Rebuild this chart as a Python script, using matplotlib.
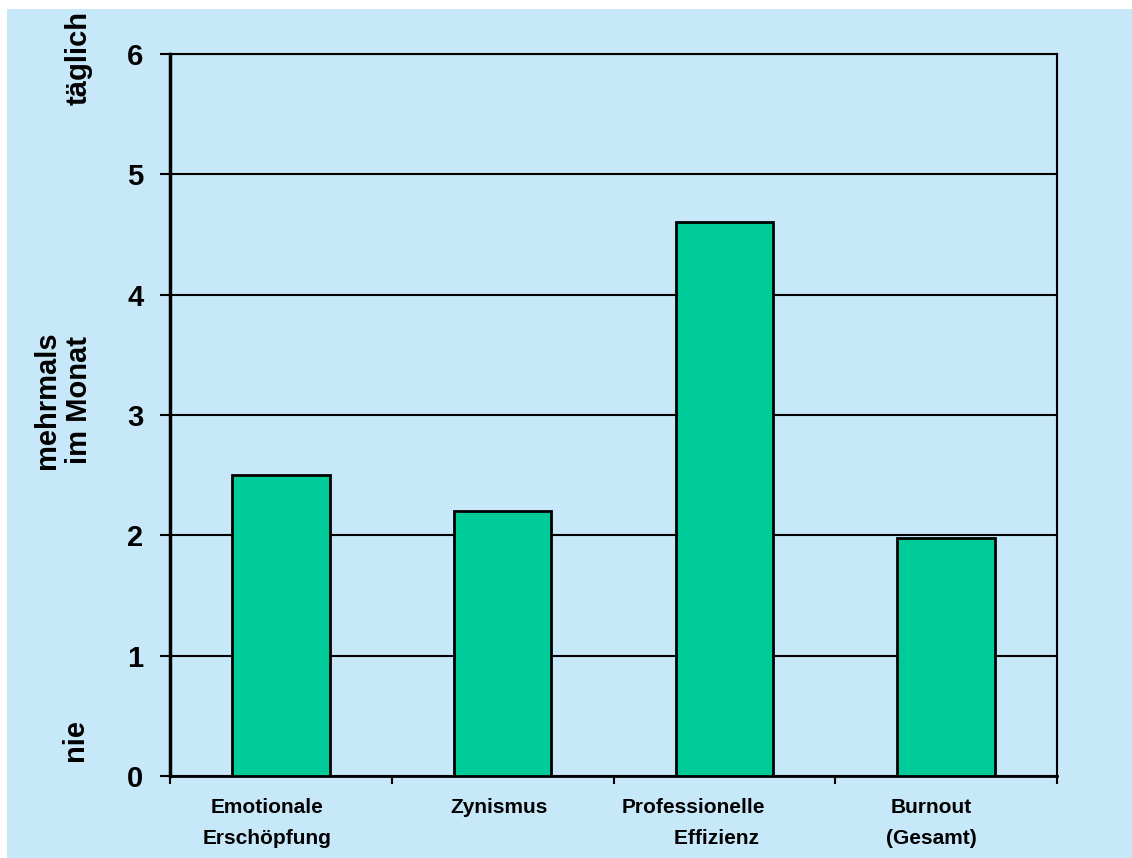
import matplotlib.pyplot as plt
from matplotlib.patches import Rectangle
from matplotlib.transforms import blended_transform_factory

# Daten
kategorien = ["Emotionale\nErschöpfung", "Zynismus", "Professionelle\nEffizienz ", "Burnout\n(Gesamt)"]
ausrichtung = ["center", "center", "right", "center"]
werte = [2.5, 2.2, 4.6, 1.98]
label_versatz = [-0.063, -0.018, -0.142, -0.068]
y_ticks = [0, 1, 2, 3, 4, 5, 6]

hintergrund = "#C6E8F8"
balken_farbe = "#00CC99"

plt.rcParams['font.family'] = ['Liberation Sans', 'DejaVu Sans']
plt.rcParams['font.weight'] = 'bold'

fig = plt.figure(figsize=(11.32, 8.58), dpi=100, facecolor="white")
# hellblauer Hintergrund mit kleinem weißen Rand oben/links
fig.patches.append(Rectangle((7 / 1132, 0), 1, 849 / 858, transform=fig.transFigure,
                             facecolor=hintergrund, edgecolor="none", zorder=-5))

ax = fig.add_axes([170 / 1132, 82 / 858, 887 / 1132, 722 / 858])
ax.set_facecolor(hintergrund)

x = range(len(werte))
ax.bar(x, werte, width=0.44, color=balken_farbe, edgecolor="black", linewidth=2, zorder=3)

ax.set_xlim(-0.5, len(werte) - 0.5)
ax.set_ylim(0, 6)
ax.set_yticks(y_ticks)
ax.yaxis.grid(True, color="black", linewidth=1.5, zorder=1)
ax.set_axisbelow(True)

# Kategoriegrenzen als Ticks
ax.set_xticks([i - 0.5 for i in range(len(werte) + 1)])
ax.set_xticklabels([])
ax.tick_params(axis="x", direction="out", length=6, width=1.5)
ax.tick_params(axis="y", direction="out", length=7, width=1.5, labelsize=21, pad=12)

for sp in ax.spines.values():
    sp.set_color("black")
    sp.set_linewidth(1.5)
ax.spines["left"].set_linewidth(2.5)
ax.spines["bottom"].set_linewidth(2)

trans = blended_transform_factory(ax.transData, ax.transAxes)
for i, (lab, dx, al) in enumerate(zip(kategorien, label_versatz, ausrichtung)):
    ax.text(i + dx, -0.031, lab, transform=trans, ha="center", va="top",
            fontsize=15, fontweight="bold", linespacing=1.75, multialignment=al)

# Skalenbeschriftungen links
fig.text(79 / 1132, 1 - 58 / 858, "täglich", rotation=90, ha="center", va="center",
         fontsize=21, fontweight="bold")
fig.text(63 / 1132, 1 - 400 / 858, "mehrmals\nim Monat", rotation=90, ha="center", va="center",
         fontsize=21, fontweight="bold", multialignment="center", linespacing=1.2)
fig.text(75 / 1132, 1 - 740 / 858, "nie", rotation=90, ha="center", va="center",
         fontsize=21, fontweight="bold")

fig.savefig("out.png", dpi=100, facecolor=fig.get_facecolor())
